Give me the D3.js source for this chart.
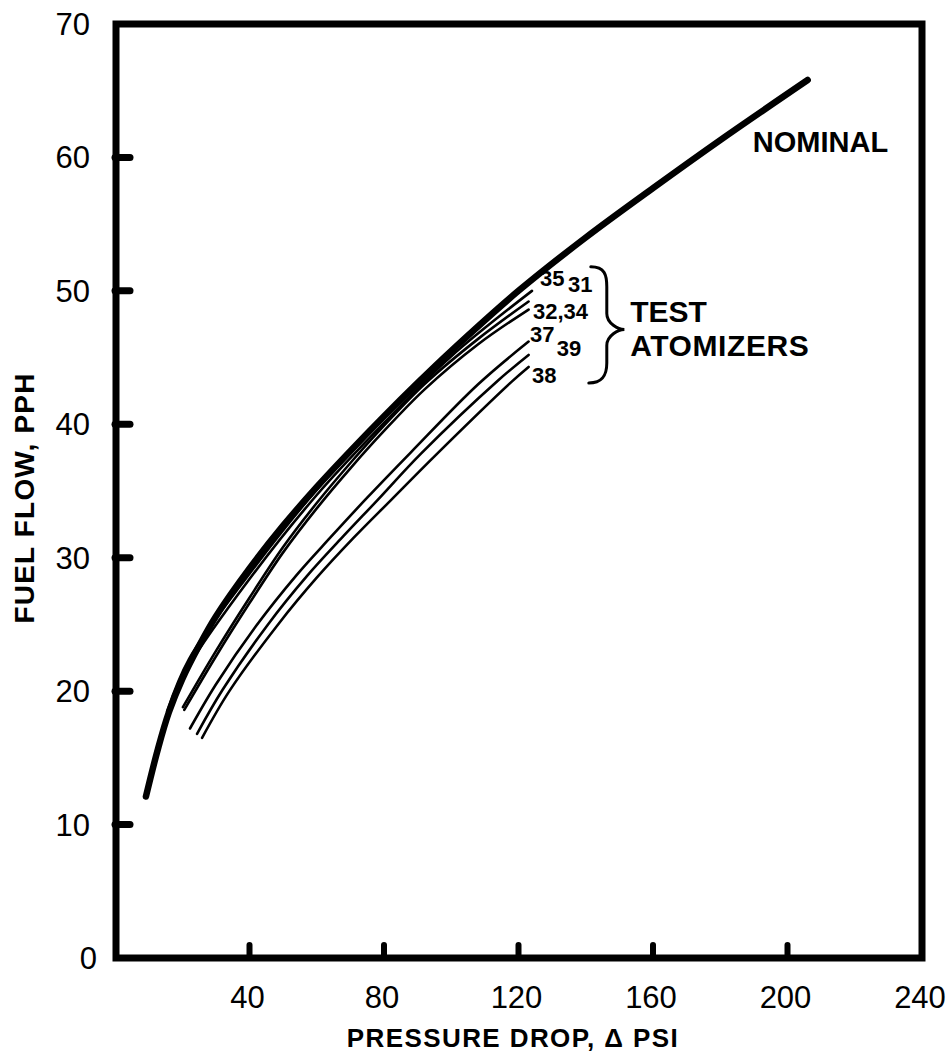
<!DOCTYPE html>
<html>
<head>
<meta charset="utf-8">
<script src="https://cdn.jsdelivr.net/npm/d3@7"></script>
<style>
  body { margin: 0; background: #fff; }
  svg { display: block; }
  .tick-label { font-family: "Liberation Sans", Arial, sans-serif; font-size: 31px; fill: #000; }
  .title { font-family: "Liberation Sans", Arial, sans-serif; font-weight: bold; fill: #000; }
  .note { font-family: "Liberation Sans", Arial, sans-serif; font-weight: bold; fill: #000; }
</style>
</head>
<body>
<div id="chart"></div>
<script>
// pressure drop (psi), fuel flow (pph)
const nominal = [[9.2, 12.1], [12.8, 15.7], [16, 18.4], [20, 20.9], [25, 23.4], [30, 25.6], [40, 29.2],
    [50, 32.4], [60, 35.3], [70, 38], [80, 40.6], [90, 43.1], [100, 45.5], [120, 50],
    [140, 54], [160, 57.7], [180, 61.3], [206, 65.8]];

const atomizer35 = [[15.5, 18.5], [22, 22.4], [40, 28.8], [60, 35.1], [80, 40.5], [100, 45.6], [123, 50.6]];
const atomizer31 = [[17, 19.2], [22, 21.9], [40, 28.4], [60, 34.7], [80, 40.1], [100, 45.1], [124, 50.0]];
const atomizer32 = [[20.2, 18.8], [30, 23], [40, 27], [50, 30.8], [60, 34.1], [70, 37.1], [80, 39.9],
    [92, 43.0], [108, 46.4], [123, 49.2]];
const atomizer34 = [[20.6, 18.6], [30, 22.6], [40, 26.6], [50, 30.4], [60, 33.7], [70, 36.7], [80, 39.5],
    [92, 42.6], [108, 46.0], [123, 48.6]];
const atomizer37 = [[22.3, 17.2], [30, 20.5], [42, 24.9], [54, 28.7], [64, 31.5], [75, 34.5], [88, 37.9],
    [108, 43.0], [123, 46.2]];
const atomizer39 = [[24.4, 16.8], [32, 20.1], [45.5, 25], [57, 28.6], [67.5, 31.5], [78, 34.3], [91, 37.8],
    [114, 43.3], [123, 45.2]];
const atomizer38 = [[25.9, 16.5], [34, 20], [48.5, 25], [60, 28.5], [71, 31.5], [82, 34.3], [95, 37.6],
    [118, 43.2], [123, 44.3]];

const testCurves = [atomizer35, atomizer31, atomizer32, atomizer34, atomizer37, atomizer39, atomizer38];

const xTicks = [40, 80, 120, 160, 200, 240];
const yTicks = [0, 10, 20, 30, 40, 50, 60, 70];

const curveLabels = [
    { text: "35", p: 126.4, f: 50.4 },
    { text: "31", p: 134.7, f: 49.9 },
    { text: "32,34", p: 124.3, f: 47.9 },
    { text: "37", p: 123.4, f: 46.2 },
    { text: "39", p: 131.4, f: 45.1 },
    { text: "38", p: 124, f: 43.1 }
];

const width = 949, height = 1060;

const x = d3.scaleLinear().domain([0, 240]).range([115, 922]);
const y = d3.scaleLinear().domain([0, 70]).range([958, 24]);

const svg = d3.select('#chart').append('svg')
    .attr('width', width)
    .attr('height', height);

const line = d3.line()
    .x(d => x(d[0]))
    .y(d => y(d[1]))
    .curve(d3.curveCatmullRom);

// test atomizer curves (thin)
svg.append("g")
    .selectAll("path")
    .data(testCurves)
    .join("path")
    .attr("d", line)
    .attr("fill", "none")
    .attr("stroke", "#000")
    .attr("stroke-width", 2.6)
    .attr("stroke-linecap", "round");

// nominal curve (thick)
svg.append("path")
    .datum(nominal)
    .attr("d", line)
    .attr("fill", "none")
    .attr("stroke", "#000")
    .attr("stroke-width", 6.5)
    .attr("stroke-linecap", "round");

// frame
svg.append("rect")
    .attr("x", x(0) + 1)
    .attr("y", y(70))
    .attr("width", x(240) - x(0) - 1)
    .attr("height", y(0) - y(70))
    .attr("fill", "none")
    .attr("stroke", "#000")
    .attr("stroke-width", 7);

// inward ticks
svg.append("g")
    .selectAll("line")
    .data(xTicks.filter(d => d < 240))
    .join("line")
    .attr("x1", d => x(d))
    .attr("x2", d => x(d))
    .attr("y1", y(0))
    .attr("y2", y(0) - 13)
    .attr("stroke", "#000")
    .attr("stroke-width", 6)
    .attr("stroke-linecap", "round");

svg.append("g")
    .selectAll("line")
    .data(yTicks.filter(d => d > 0 && d < 70))
    .join("line")
    .attr("x1", x(0))
    .attr("x2", x(0) + 15)
    .attr("y1", d => y(d))
    .attr("y2", d => y(d))
    .attr("stroke", "#000")
    .attr("stroke-width", 7)
    .attr("stroke-linecap", "round");

// tick labels
svg.append("g")
    .selectAll("text")
    .data(xTicks)
    .join("text")
    .attr("class", "tick-label")
    .attr("x", d => x(d) - 2)
    .attr("y", 1008)
    .attr("text-anchor", "middle")
    .text(d => d);

svg.append("g")
    .selectAll("text")
    .data(yTicks)
    .join("text")
    .attr("class", "tick-label")
    .attr("x", d => d === 0 ? 97 : 90)
    .attr("y", d => y(d) + 11)
    .attr("text-anchor", "end")
    .text(d => d);

// axis titles
svg.append("text")
    .attr("class", "title")
    .attr("transform", "translate(34," + 498 + ") rotate(-90)")
    .attr("text-anchor", "middle")
    .style("font-size", "28px")
    .style("letter-spacing", "1.2px")
    .text("FUEL FLOW, PPH");

svg.append("text")
    .attr("class", "title")
    .attr("x", 513)
    .attr("y", 1047)
    .attr("text-anchor", "middle")
    .style("font-size", "26px")
    .style("letter-spacing", "1.4px")
    .text("PRESSURE DROP, \u0394 PSI");

// annotations
svg.append("text")
    .attr("class", "note")
    .attr("x", x(189.7))
    .attr("y", y(60.4))
    .style("font-size", "29px")
    .text("NOMINAL");

svg.append("g")
    .selectAll("text")
    .data(curveLabels)
    .join("text")
    .attr("class", "note")
    .attr("x", d => x(d.p))
    .attr("y", d => y(d.f))
    .style("font-size", "22px")
    .text(d => d.text);

svg.append("text")
    .attr("class", "note")
    .attr("x", x(153.2))
    .attr("y", y(47.7))
    .style("font-size", "30px")
    .text("TEST");

svg.append("text")
    .attr("class", "note")
    .attr("x", x(153.2))
    .attr("y", y(45.1))
    .style("font-size", "30px")
    .style("letter-spacing", "0.6px")
    .text("ATOMIZERS");

// curly brace grouping the test labels
const bx = x(141.5), bTop = y(51.8), bMid = y(47.1), bBot = y(43.1), bTip = x(151.5);
svg.append("path")
    .attr("d", `M${bx},${bTop} C${bx + 14},${bTop} ${bx + 16},${bTop + 8} ${bx + 16},${bTop + 20}
        L${bx + 16},${bMid - 16} C${bx + 16},${bMid - 6} ${bTip - 6},${bMid} ${bTip},${bMid}
        C${bTip - 6},${bMid} ${bx + 16},${bMid + 6} ${bx + 16},${bMid + 16}
        L${bx + 16},${bBot - 20} C${bx + 16},${bBot - 8} ${bx + 12},${bBot} ${bx - 2},${bBot}`)
    .attr("fill", "none")
    .attr("stroke", "#000")
    .attr("stroke-width", 3)
    .attr("stroke-linecap", "round");
</script>
</body>
</html>
